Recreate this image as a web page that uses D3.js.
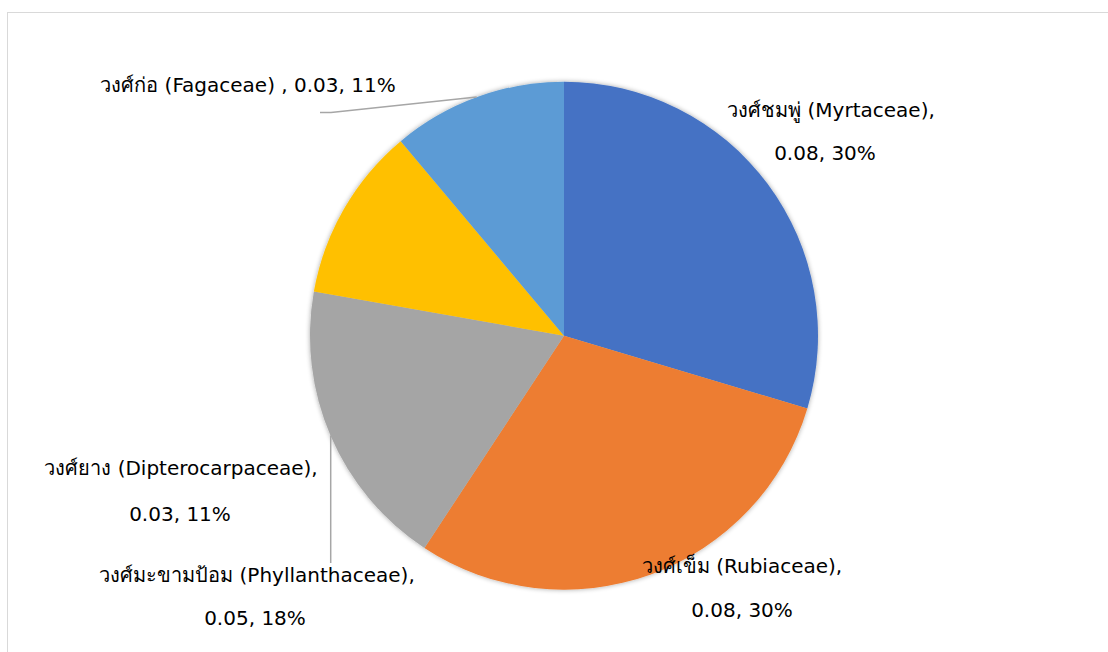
<!DOCTYPE html>
<html>
<head>
<meta charset="utf-8">
<script src="https://cdn.jsdelivr.net/npm/d3@7"></script>
<style>
  html, body { margin: 0; padding: 0; background: #fff; }
  svg { display: block; }
  text { font-family: "DejaVu Sans", "Noto Sans", sans-serif; fill: #000; }
</style>
</head>
<body>
<svg id="chart" width="1108" height="652"></svg>
<script>
// ---- data ----
const families = ["Myrtaceae", "Rubiaceae", "Phyllanthaceae", "Dipterocarpaceae", "Fagaceae"];
const thaiNames = ["วงศ์ชมพู่", "วงศ์เข็ม", "วงศ์มะขามป้อม", "วงศ์ยาง", "วงศ์ก่อ"];
const values = [0.08, 0.08, 0.05, 0.03, 0.03];
const percentLabels = ["30%", "30%", "18%", "11%", "11%"];
const colors = ["#4472C4", "#ED7D31", "#A5A5A5", "#FFC000", "#5B9BD5"];

// ---- layout (positions only) ----
const W = 1108, H = 652;
const cx = 564, cy = 335.7, R = 254;
const fontSize = 20;
const labelLayout = [
  { lines: 2, x: [831, 825], y: [117, 160] },
  { lines: 2, x: [742, 742], y: [573, 617] },
  { lines: 2, x: [257, 255], y: [582, 625] },
  { lines: 2, x: [181, 180], y: [475, 521] },
  { lines: 1, x: [248], y: [91.5] }
];
const leaders = [
  { i: 3, pts: [[330.7, 563], [330.7, 435.5]] },
  { i: 4, pts: [[320, 112.5], [331, 112.5], [476.7, 97]] }
];

const svg = d3.select("#chart");

svg.append("rect")
  .attr("x", 7.5).attr("y", 12.5)
  .attr("width", W + 20).attr("height", H + 20)
  .attr("fill", "none").attr("stroke", "#d9d9d9").attr("stroke-width", 1);

const defs = svg.append("defs");
const f = defs.append("filter").attr("id", "shadow")
  .attr("x", "-10%").attr("y", "-10%").attr("width", "120%").attr("height", "120%");
f.append("feGaussianBlur").attr("in", "SourceAlpha").attr("stdDeviation", 2.5).attr("result", "blur");
f.append("feOffset").attr("in", "blur").attr("dx", 0).attr("dy", 0).attr("result", "off");
f.append("feComponentTransfer").attr("in", "off").attr("result", "soft")
  .append("feFuncA").attr("type", "linear").attr("slope", 0.35);
const m = f.append("feMerge");
m.append("feMergeNode").attr("in", "soft");
m.append("feMergeNode").attr("in", "SourceGraphic");

const pie = d3.pie().sort(null).value(d => d).startAngle(0).endAngle(2 * Math.PI);
const arc = d3.arc().innerRadius(0).outerRadius(R);
const arcs = pie(values);

const g = svg.append("g").attr("transform", `translate(${cx},${cy})`);
g.append("g").attr("filter", "url(#shadow)")
  .selectAll("path").data(arcs).enter().append("path")
  .attr("d", arc)
  .attr("fill", (d, i) => colors[i]);

const line = d3.line();
svg.selectAll("path.leader").data(leaders).enter().append("path")
  .attr("class", "leader")
  .attr("d", d => line(d.pts))
  .attr("fill", "none")
  .attr("stroke", "#a6a6a6")
  .attr("stroke-width", 1.5);

values.forEach((v, i) => {
  const L = labelLayout[i];
  const namePart = `${thaiNames[i]} (${families[i]})`;
  const valPart = `${v.toFixed(2)}, ${percentLabels[i]}`;
  const texts = L.lines === 2 ? [namePart + ",", valPart] : [namePart + " , " + valPart];
  texts.forEach((t, k) => {
    svg.append("text")
      .attr("x", L.x[k]).attr("y", L.y[k])
      .attr("text-anchor", "middle")
      .attr("font-size", fontSize)
      .text(t);
  });
});
</script>
</body>
</html>
